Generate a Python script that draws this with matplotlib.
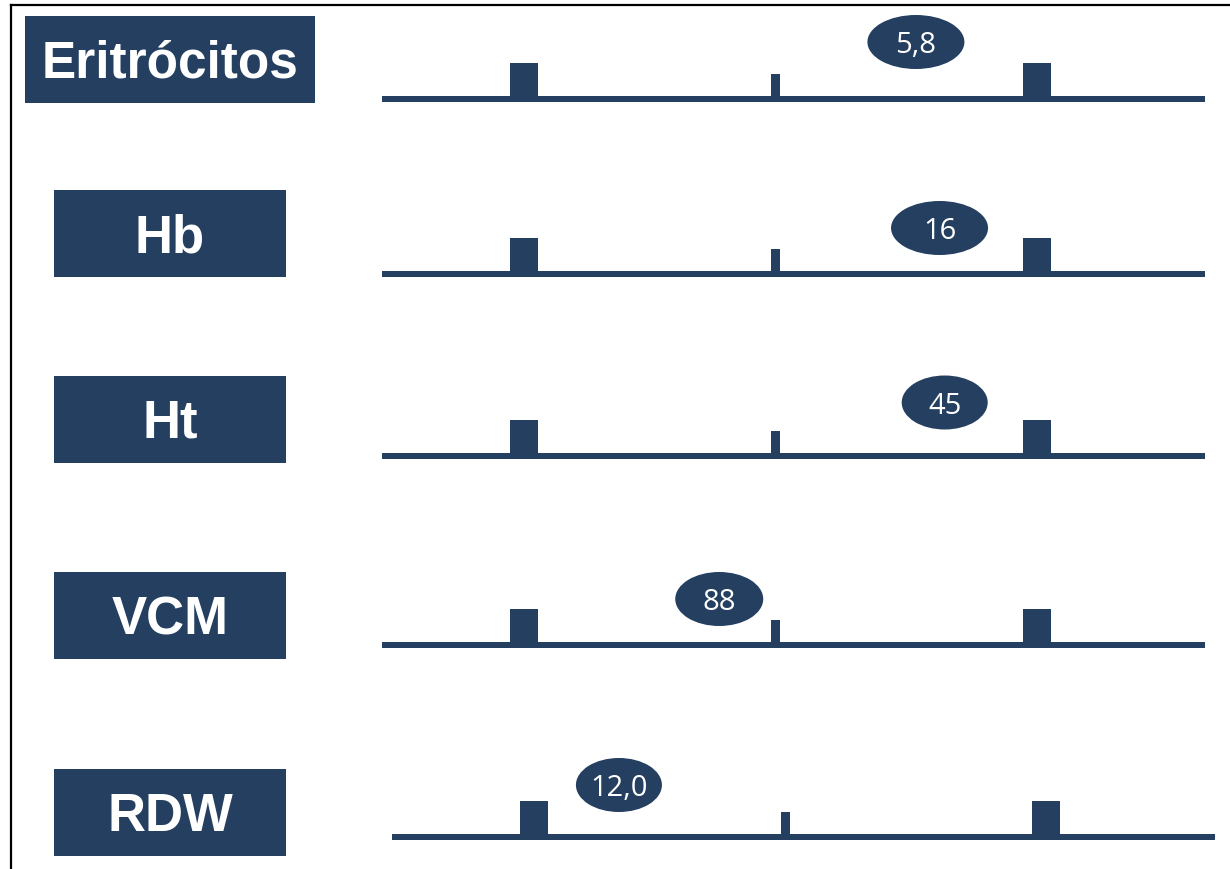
import matplotlib.pyplot as plt
from matplotlib.patches import Rectangle, Ellipse

# analytes, measured values and reference limits
labels = ["Eritrócitos", "Hb", "Ht", "VCM", "RDW"]
values = [5.8, 16, 45, 88, 12.0]
value_text = ["5,8", "16", "45", "88", "12,0"]
ref_low = [4.5, 13.0, 39.5, 80, 11.5]
ref_high = [6.2, 16.7, 46.2, 101, 14.5]

navy = "#243f60"

# layout in pixels (figure is 1230 x 869)
row_y = [99, 273.5, 455.5, 644.5, 837]
row_shift = [0, 0, 0, 0, 9.5]
box_w = [290, 232, 232, 232, 232]
box_cy = [59, 233.5, 419, 615.5, 812]
bubble_dy = [57, 45.5, 53, 45.5, 52]
bubble_w = [97, 97, 86, 88, 86]
font_sz = [37, 38, 38, 38, 38]

fig = plt.figure(figsize=(12.3, 8.69), dpi=100)
ax = fig.add_axes([0, 0, 1, 1])
ax.set_xlim(0, 1230)
ax.set_ylim(869, 0)
ax.axis("off")

# frame (only left and top visible in the crop)
ax.plot([11, 11], [869, 5], color="black", lw=1.6)
ax.plot([11, 1230], [5, 5], color="black", lw=1.6)

for i, name in enumerate(labels):
    y = row_y[i]
    x0 = 382 + row_shift[i]
    x_lo = x0 + 142
    x_hi = x0 + 654.5
    x_mid = x0 + 393.5

    # label box
    ax.add_patch(Rectangle((170 - box_w[i] / 2, box_cy[i] - 43.5), box_w[i], 87,
                           facecolor=navy, edgecolor="none"))
    ax.text(170, box_cy[i] + 19, name, color="white", fontsize=font_sz[i],
            fontweight="bold", family="Liberation Sans", ha="center", va="baseline")

    # scale line, limit markers and centre tick
    ax.add_patch(Rectangle((x0, y - 3), 823, 6, facecolor=navy, edgecolor="none"))
    for xc in (x_lo, x_hi):
        ax.add_patch(Rectangle((xc - 14, y - 36), 28, 36, facecolor=navy, edgecolor="none"))
    ax.add_patch(Rectangle((x_mid - 4.5, y - 25), 9, 25, facecolor=navy, edgecolor="none"))

    # value bubble
    frac = (values[i] - ref_low[i]) / (ref_high[i] - ref_low[i])
    xv = x_lo + frac * (x_hi - x_lo)
    yv = y - bubble_dy[i]
    ax.add_patch(Ellipse((xv, yv), bubble_w[i], 54, facecolor=navy, edgecolor="none"))
    ax.text(xv, yv + 11, value_text[i], color="white", fontsize=21,
            family="Open Sans", ha="center", va="baseline")

plt.savefig("out.png", dpi=100)
